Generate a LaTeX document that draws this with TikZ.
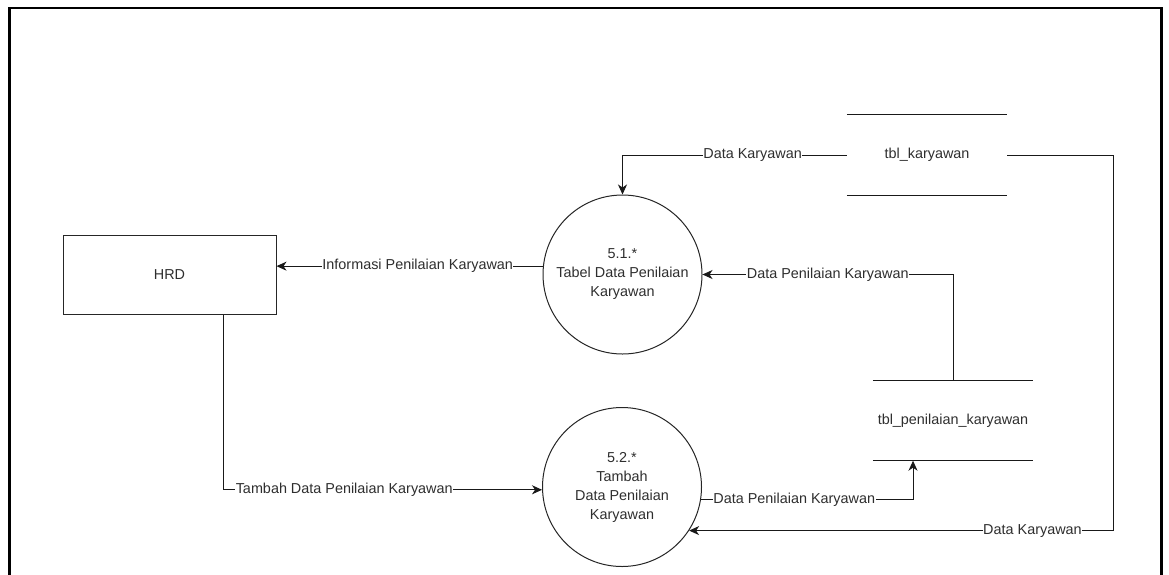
\documentclass[tikz,border=0pt]{standalone}
\usepackage{fontspec}
\setmainfont{Liberation Sans}
\usetikzlibrary{arrows.meta}
\begin{document}
\begin{tikzpicture}[x=1pt,y=-1pt,
  every node/.style={font=\fontsize{14.4}{19}\selectfont, text=black!82},
  entity/.style={draw=black!85, line width=1pt, minimum width=213pt, minimum height=79pt, inner sep=0pt},
  process/.style={draw=black!85, line width=1pt, circle, minimum size=159pt, inner sep=0pt, align=center},
  store/.style={minimum width=160pt, minimum height=80pt, inner sep=0pt},
  flow/.style={draw=black!90, line width=1pt, -{Stealth[length=10pt,width=9pt,inset=3pt]}},
  lbl/.style={fill=white, inner sep=0.5pt}
]
\useasboundingbox (0,0) rectangle (1169,574);

% outer frame
\draw[line width=2.6pt, line cap=rect] (9.5,574) -- (9.5,8) -- (1161.5,8) -- (1161.5,574);

% external entity
\node[entity] (hrd) at (169.5,274.5) {HRD};

% processes
\node[process] (p1) at (622.5,274.5) {5.1.*\\Tabel Data Penilaian\\Karyawan};
\node[process] (p2) at (622,487) {5.2.*\\Tambah\\Data Penilaian\\Karyawan};

% data stores
\node[store] (s1) at (927,155) {tbl\_karyawan};
\node[store] (s2) at (953,420.5) {tbl\_penilaian\_karyawan};
\foreach \s in {s1,s2} {
  \draw[draw=black!90, line width=1pt] (\s.north west) -- (\s.north east);
  \draw[draw=black!90, line width=1pt] (\s.south west) -- (\s.south east);
}

% data flows
\coordinate (hrdout) at ([xshift=53.5pt]hrd.south);
\coordinate (s2in) at ([xshift=-40pt]s2.south);
\coordinate (s1bend) at (1113,155);

\draw[flow] (s1.west) -- node[lbl, pos=0.42]{Data Karyawan} (p1.north |- s1.west) -- (p1.north);
\draw[flow] (p1.174) -- node[lbl, pos=0.47]{Informasi Penilaian Karyawan} (hrd.east |- p1.174);
\draw[flow] (s2.north) |- node[lbl, pos=0.75]{Data Penilaian Karyawan} (p1.east);
\draw[flow] (hrdout) |- node[lbl, pos=0.69]{Tambah Data Penilaian Karyawan} (p2.182);
\draw[flow] (p2.351) -| node[lbl, pos=0.22]{Data Penilaian Karyawan} (s2in);
\draw[flow] (s1.east) -- (s1bend) |- node[lbl, pos=0.595]{Data Karyawan} (p2.327.5);
\end{tikzpicture}
\end{document}
